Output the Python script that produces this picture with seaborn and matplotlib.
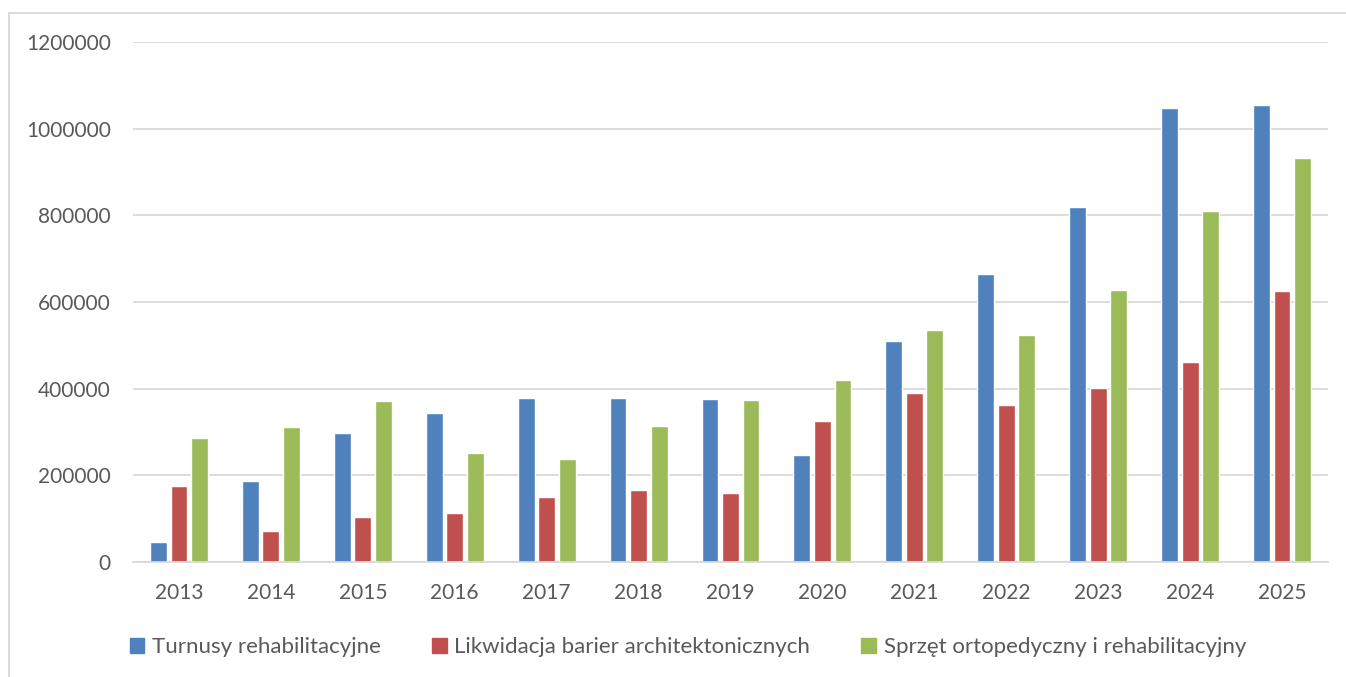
import matplotlib
matplotlib.use("Agg")
import matplotlib.pyplot as plt
import seaborn as sns
import pandas as pd
from matplotlib.patches import Rectangle

years = ["2013", "2014", "2015", "2016", "2017", "2018", "2019", "2020", "2021", "2022", "2023", "2024", "2025"]
series_names = ["Turnusy rehabilitacyjne", "Likwidacja barier architektonicznych", "Sprzęt ortopedyczny i rehabilitacyjny"]
turnusy = [47000, 188000, 298000, 344000, 379000, 378000, 376000, 248000, 510000, 664000, 820000, 1048000, 1054000]
bariery = [176000, 71000, 104000, 113000, 151000, 166000, 159000, 325000, 391000, 362000, 401000, 461000, 626000]
sprzet = [286000, 311000, 372000, 251000, 237000, 314000, 375000, 420000, 535000, 523000, 627000, 809000, 933000]
colors = ["#4F81BD", "#C0504D", "#9BBB59"]
yticks = [0, 200000, 400000, 600000, 800000, 1000000, 1200000]

rows = []
for name, vals in zip(series_names, [turnusy, bariery, sprzet]):
    for y, v in zip(years, vals):
        rows.append({"Rok": y, "Seria": name, "Wartość": v})
df = pd.DataFrame(rows)

sns.set_theme(style="white")
plt.rcParams["font.family"] = ["Lato", "DejaVu Sans"]

fig = plt.figure(figsize=(13.46, 6.77), dpi=100)
ax = fig.add_axes([133 / 1346, 1 - 562 / 677, (1328 - 133) / 1346, (562 - 42) / 677])

sns.barplot(data=df, x="Rok", y="Wartość", hue="Seria", palette=colors,
            width=0.67, gap=0.18, saturation=1, ax=ax, legend=False)

ax.set_ylim(0, 1200000)
ax.set_xlim(-0.5, len(years) - 0.5)
ax.set_yticks(yticks)
ax.set_yticklabels([str(t) for t in yticks])
ax.set_xlabel("")
ax.set_ylabel("")
ax.yaxis.grid(True, color="#D9D9D9", linewidth=1.3)
ax.set_axisbelow(True)
for s in ["top", "right", "left"]:
    ax.spines[s].set_visible(False)
ax.spines["bottom"].set_color("#D9D9D9")
ax.spines["bottom"].set_linewidth(1.3)
ax.tick_params(axis="both", length=0, labelsize=15, labelcolor="#595959")
ax.tick_params(axis="y", pad=16)
ax.tick_params(axis="x", pad=15)

handles = [Rectangle((0, 0), 1, 1, color=c) for c in colors]
fig.legend(handles, series_names, loc="center", bbox_to_anchor=(688 / 1346, 1 - 647 / 677),
           ncol=3, frameon=False, fontsize=16, labelcolor="#595959",
           handlelength=0.65, handleheight=0.65, handletextpad=0.35, columnspacing=2.3)

# outer chart border
fig.add_artist(Rectangle((9 / 1346, -0.01), 1.02, 1 - 13 / 677 + 0.01, transform=fig.transFigure,
                         fill=False, edgecolor="#D9D9D9", linewidth=1.3))

fig.savefig("out.png", dpi=100)
